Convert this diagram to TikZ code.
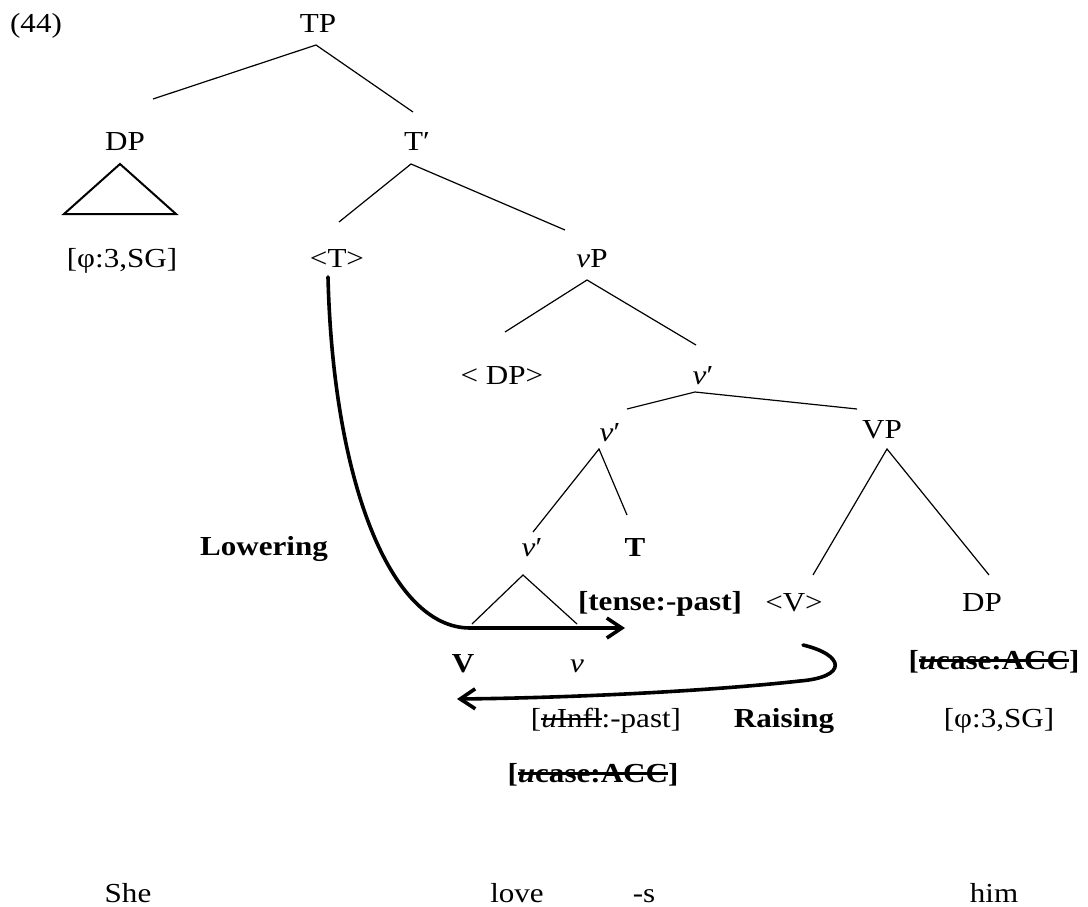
\documentclass[tikz,border=0pt]{standalone}
\usepackage{fontspec}
\setmainfont{Liberation Serif}[FakeStretch=1.13]
\usetikzlibrary{arrows.meta}
% strike a piece of text through with a rule
\newcommand\strk[2][0.06em]{\leavevmode\sbox0{#2}\rlap{\rule[0.27em]{\wd0}{#1}}\usebox0}
\begin{document}
\begin{tikzpicture}[x=1pt,y=-1pt,
  every node/.style={font=\fontsize{27.5pt}{33pt}\selectfont},
  lbl/.style={anchor=base,inner sep=0pt},
  branch/.style={line width=1.2pt},
  roof/.style={line width=2pt,line join=miter},
  mover/.style={line width=3.6pt,line cap=round,
    -{Straight Barb[length=15pt,width=20pt,line width=3.6pt]}}]
\path[use as bounding box] (0,0) rectangle (1088,907);

% labels of the tree
\node[lbl] (ex) at (36,33) {(44)};
\node[lbl] (TP) at (318,33) {TP};
\node[lbl] (DPa) at (125,150) {DP};
\node[lbl] (Tbar) at (417,150) {T′};
\node[lbl] (phia) at (122,267) {[φ:3,SG]};
\node[lbl] (Ttr) at (337,267) {<T>};
\node[lbl] (vP) at (592,267) {\textit{v}P};
\node[lbl] (DPtr) at (502,384) {< DP>};
\node[lbl] (vbara) at (703,384) {\textit{v}′};
\node[lbl] (vbarb) at (610,441) {\textit{v}′};
\node[lbl] (VP) at (882,438) {VP};
\node[lbl] (vbarc) at (532,556) {\textit{v}′};
\node[lbl] (Tlow) at (635,556) {\textbf{T}};
\node[lbl] (lower) at (264,555) {\textbf{Lowering}};
\node[lbl] (tense) at (660,610) {\textbf{[tense:-past]}};
\node[lbl] (Vtr) at (794,611) {<V>};
\node[lbl] (DPb) at (982,611) {DP};
\node[lbl] (Vhd) at (463,672) {\textbf{V}};
\node[lbl] (vhd) at (577,672) {\textit{v}};
\node[lbl] (casea) at (994,669) {\textbf{[\strk[0.08em]{\textit{u}case:ACC}]}};
\node[lbl] (infl) at (606,727) {[\strk{\textit{u}Infl}:-past]};
\node[lbl] (raise) at (784,727) {\textbf{Raising}};
\node[lbl] (phib) at (999,727) {[φ:3,SG]};
\node[lbl] (caseb) at (593,782) {\textbf{[\strk[0.08em]{\textit{u}case:ACC}]}};
\node[lbl] (she) at (128,902) {She};
\node[lbl] (love) at (517,902) {love};
\node[lbl] (suf) at (644,902) {-s};
\node[lbl] (him) at (994,902) {him};

% branch points
\coordinate (tp) at (316,45);   \coordinate (tpl) at (153,99);  \coordinate (tpr) at (413,112);
\coordinate (tb) at (411,164);  \coordinate (tbl) at (339,222); \coordinate (tbr) at (565,230);
\coordinate (vp) at (587,280);  \coordinate (vpl) at (505,332); \coordinate (vpr) at (696,345);
\coordinate (va) at (695,392);  \coordinate (val) at (627,409); \coordinate (var) at (857,409);
\coordinate (vb) at (599,449);  \coordinate (vbl) at (533,532); \coordinate (vbr) at (627,515);
\coordinate (vv) at (887,449);  \coordinate (vvl) at (813,575); \coordinate (vvr) at (989,575);
\coordinate (vc) at (523,575);  \coordinate (vcl) at (472,624); \coordinate (vcr) at (577,624);
\coordinate (dp) at (120,164);  \coordinate (dpl) at (64,214);  \coordinate (dpr) at (176,214);

\draw[branch] (tpl) -- (tp) -- (tpr);
\draw[branch] (tbl) -- (tb) -- (tbr);
\draw[branch] (vpl) -- (vp) -- (vpr);
\draw[branch] (val) -- (va) -- (var);
\draw[branch] (vbl) -- (vb) -- (vbr);
\draw[branch] (vvl) -- (vv) -- (vvr);
\draw[branch] (vcl) -- (vc) -- (vcr);
\draw[roof] (dp) -- (dpl) -- (dpr) -- cycle;

% head movement arrows
\coordinate (lowStart) at (328,277);
\coordinate (lowEnd) at (625,628);
\coordinate (raiseStart) at (803,645);
\coordinate (raiseEnd) at (457,699);
\draw[mover] (lowStart) .. controls (333,480) and (390,628) .. (470,628) -- (lowEnd);
\draw[mover] (raiseStart) .. controls (845,655) and (848,677) .. (800,681)
  .. controls (700,692) and (560,698) .. (raiseEnd);
\end{tikzpicture}
\end{document}
